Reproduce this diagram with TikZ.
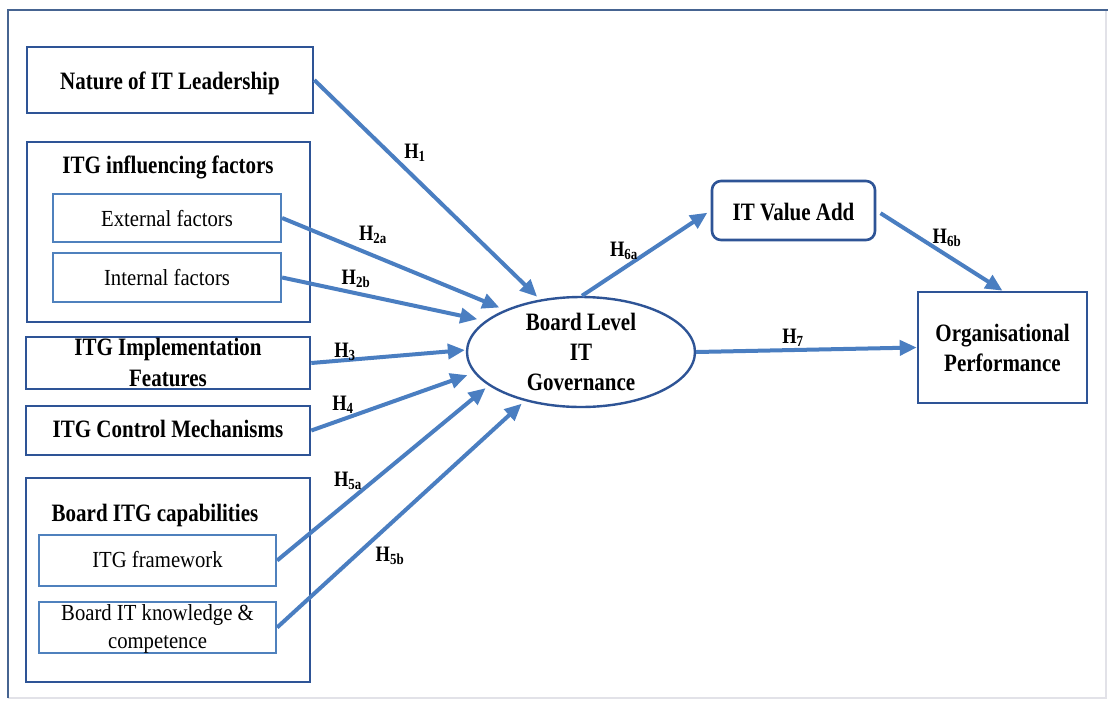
\documentclass[tikz,border=0pt]{standalone}
\usepackage{fontspec}
\setmainfont{Liberation Serif}[FakeStretch=0.9]
\newfontfamily\narrowbold{Liberation Serif}[FakeStretch=0.84]
\usetikzlibrary{arrows.meta,shapes.geometric}

\definecolor{boxblue}{RGB}{46,84,150}
\definecolor{innerblue}{RGB}{79,129,189}
\definecolor{arrowblue}{RGB}{74,126,193}
\definecolor{framedark}{RGB}{70,100,145}
\definecolor{framelight}{RGB}{226,226,232}

\tikzset{
  obox/.style={draw=boxblue, line width=2.6pt, inner sep=0pt},
  ibox/.style={draw=innerblue, line width=2.2pt, inner sep=0pt},
  % multi-line texts are anchored at the baseline of their last line
  btxt/.style={inner sep=0pt, anchor=base, align=center,
    font=\narrowbold\fontsize{25}{30}\selectfont\bfseries},
  rtxt/.style={inner sep=0pt, anchor=base, align=center,
    font=\fontsize{23}{28}\selectfont},
  hyp/.style={inner sep=0pt, font=\narrowbold\fontsize{22}{24}\selectfont\bfseries},
  arr/.style={draw=arrowblue, line width=4pt,
    -{Triangle[length=17pt,width=15pt]}}
}

\begin{document}
\begin{tikzpicture}[x=1pt,y=-1pt]
\useasboundingbox (0,0) rectangle (1109,702);
\fill[white] (0,0) rectangle (1109,702);

% outer frame
\draw[framelight, line width=1.2pt] (1106,10) -- (1106,698) -- (8,698);
\draw[framedark, line width=2.4pt] (8,698) -- (8,10) -- (1108,10);

% left column
\node[obox, minimum width=286, minimum height=66] (nat) at (170,80) {};
\node[btxt] (nattxt) at (170,89.5) {Nature of IT Leadership};

\node[obox, minimum width=283, minimum height=180] (inf) at (168.5,232) {};
\node[btxt] (inftxt) at (168,173) {ITG influencing factors};
\node[ibox, minimum width=228, minimum height=48] (ext) at (167,218) {};
\node[rtxt] (exttxt) at (167,226.5) {External factors};
\node[ibox, minimum width=228, minimum height=49] (int) at (167,277.5) {};
\node[rtxt] (inttxt) at (167,285) {Internal factors};

\node[obox, minimum width=284, minimum height=52] (impl) at (168,363) {};
\node[btxt, font=\narrowbold\fontsize{25}{31.5}\selectfont\bfseries] (impltxt) at (168,386.5) {ITG Implementation\\Features};

\node[obox, minimum width=284, minimum height=49] (ctrl) at (168,430.5) {};
\node[btxt] (ctrltxt) at (168,437.5) {ITG Control Mechanisms};

\node[obox, minimum width=284, minimum height=204] (cap) at (168,580) {};
\node[btxt] (captxt) at (155,521.5) {Board ITG capabilities};
\node[ibox, minimum width=237, minimum height=51] (fw) at (157.5,560.5) {};
\node[rtxt] (fwtxt) at (157.5,567) {ITG framework};
\node[ibox, minimum width=237, minimum height=51] (bk) at (157.5,627.5) {};
\node[rtxt] (bktxt) at (157.5,648) {Board IT knowledge \&\\competence};

% centre and right
\node[draw=boxblue, line width=2.4pt, ellipse, minimum width=228, minimum height=110, inner sep=0pt] (bl) at (581,352) {};
\node[btxt] (bltxt) at (581,390) {Board Level\\IT\\Governance};

\node[obox, rounded corners=9pt, minimum width=163, minimum height=59] (va) at (793.5,210.5) {};
\node[btxt] (vatxt) at (793.5,220) {IT Value Add};

\node[obox, minimum width=169, minimum height=111] (op) at (1002.5,347.5) {};
\node[btxt] (optxt) at (1002.5,371.5) {Organisational\\Performance};

% hypothesis paths
\draw[arr, shorten >=4pt] (nat.east) -- (bl.128);
\draw[arr, shorten >=6pt] (ext.east) -- (bl.151);
\draw[arr, shorten >=8pt] (int.east) -- (bl.162);
\draw[arr, shorten >=1pt] (impl.east) -- (bl.179);
\draw[arr, shorten >=7pt] (ctrl.east) -- (bl.191);
\draw[arr, shorten >=4pt] (fw.east) -- (bl.200);
\draw[arr, shorten >=4pt] (bk.east) -- (bl.221);
\draw[arr, shorten >=4pt] (bl.89) -- (va.west);
\draw[arr, shorten <=5pt] (va.east) -- (op.north);
\draw[arr] (bl.east) -- (op.west);

% hypothesis labels
\node[hyp] (h1)  at (415,153) {H\textsubscript{1}};
\node[hyp] (h2a) at (373,235) {H\textsubscript{2a}};
\node[hyp] (h2b) at (356,279) {H\textsubscript{2b}};
\node[hyp] (h3)  at (345,352) {H\textsubscript{3}};
\node[hyp] (h4)  at (343,405) {H\textsubscript{4}};
\node[hyp] (h5a) at (348,481) {H\textsubscript{5a}};
\node[hyp] (h5b) at (390,556) {H\textsubscript{5b}};
\node[hyp] (h6a) at (624,251) {H\textsubscript{6a}};
\node[hyp] (h6b) at (947,238) {H\textsubscript{6b}};
\node[hyp] (h7)  at (793,338) {H\textsubscript{7}};
\end{tikzpicture}
\end{document}
